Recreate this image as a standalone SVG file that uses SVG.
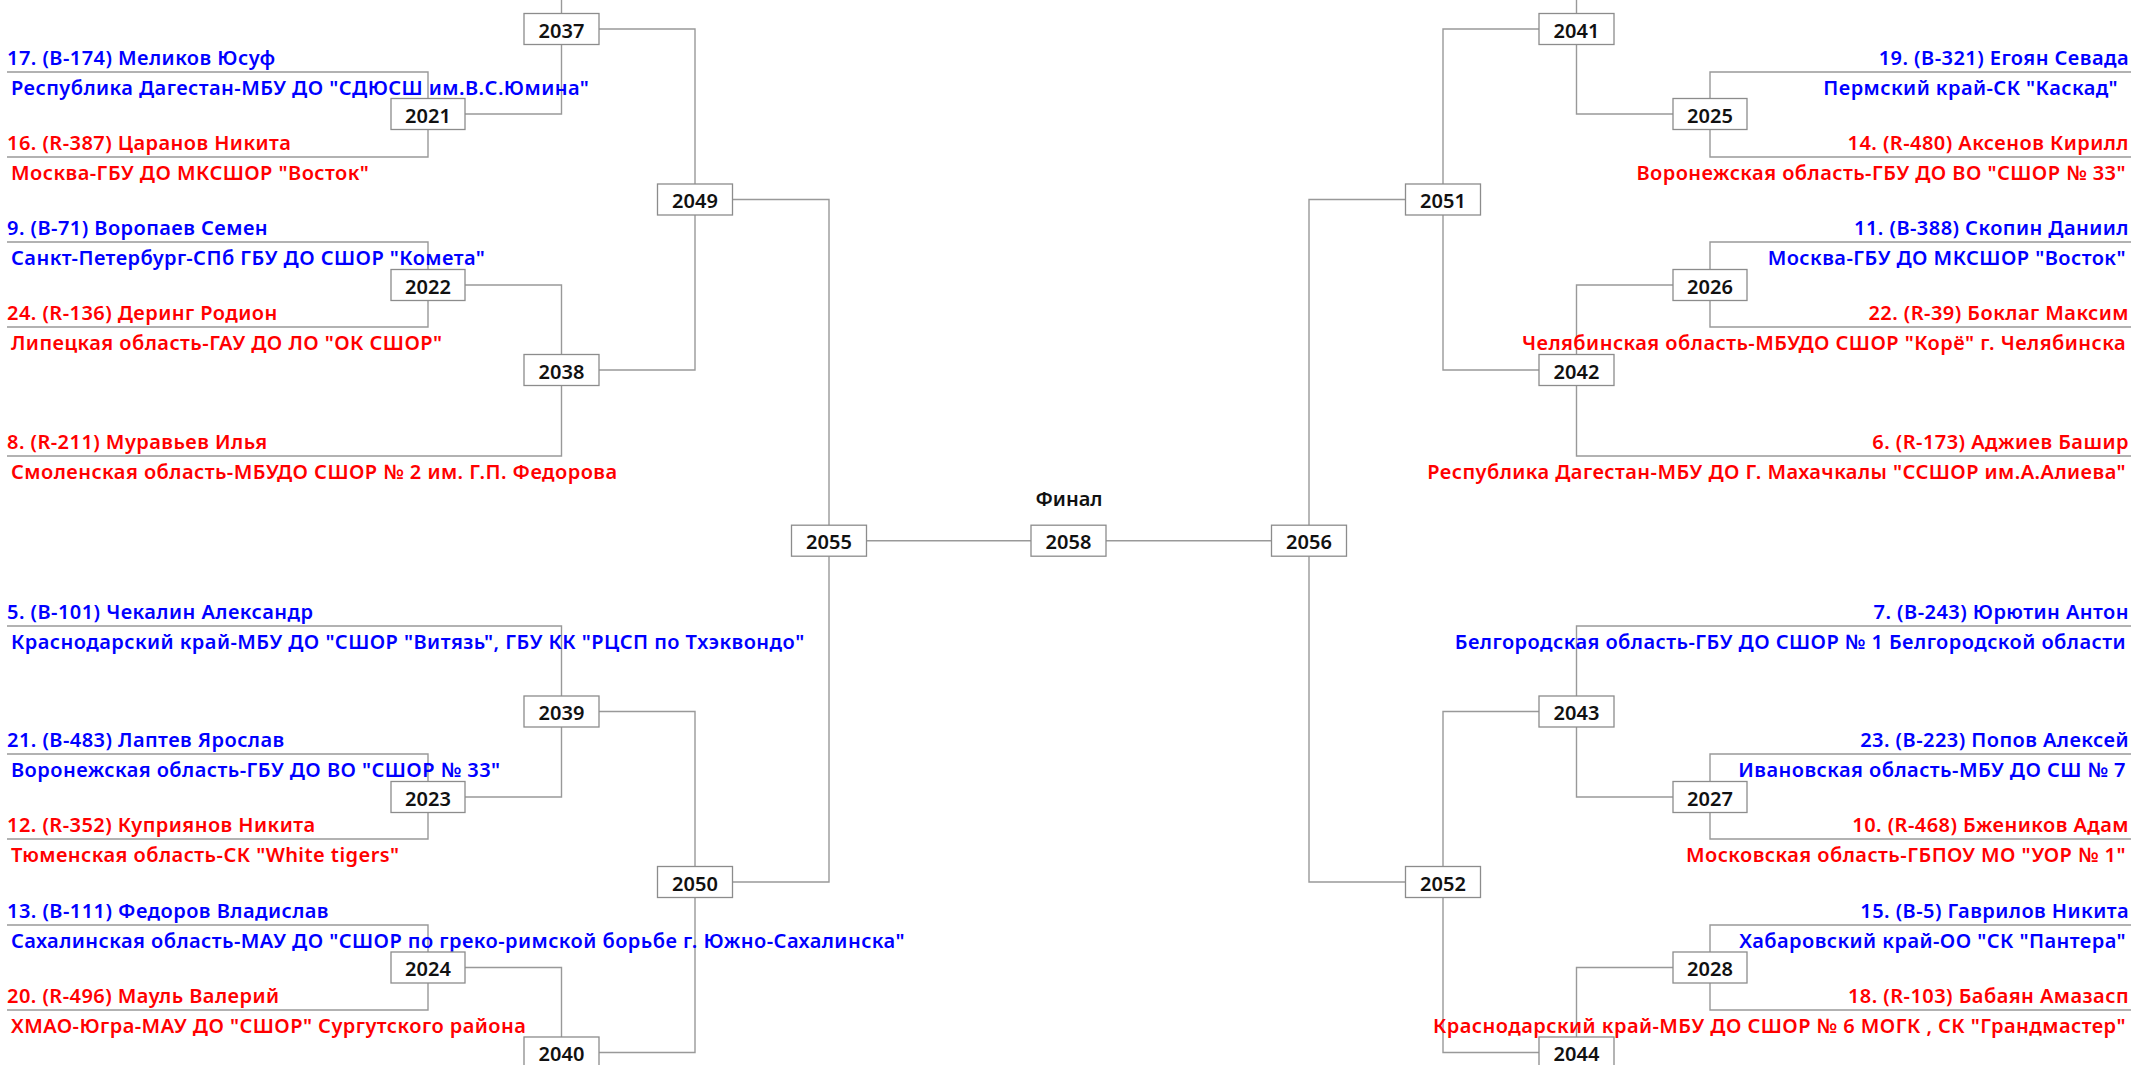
<svg xmlns="http://www.w3.org/2000/svg" width="2131" height="1065" viewBox="0 0 2131 1065">
<style>
.bg{fill:#ffffff}
.ln{fill:none;stroke:#999999;stroke-width:1.4}
.box rect{fill:#ffffff;stroke:#8c8c8c;stroke-width:1.3}
.box text{font-family:"Noto Sans","Open Sans",sans-serif;font-size:20px;font-weight:600;fill:#111111;text-anchor:middle}
.p text{font-family:"Noto Sans","Open Sans",sans-serif;font-size:20px;font-weight:600;letter-spacing:0.45px}
.b text{fill:#0000ff}
.r text{fill:#ff0000}
.R text{text-anchor:end}
.title{font-family:"Noto Sans","Open Sans",sans-serif;font-size:20px;font-weight:600;fill:#111111;text-anchor:middle}
</style>
<rect class="bg" x="0" y="0" width="2131" height="1065"/>
<g id="connectors" class="ln">
<path d="M7,72 H428 V114"/>
<path d="M7,157 H428 V114"/>
<path d="M7,242 H428 V285"/>
<path d="M7,327 H428 V285"/>
<path d="M7,456 H561.5 V370"/>
<path d="M7,626 H561.5 V711.5"/>
<path d="M7,754 H428 V797"/>
<path d="M7,839 H428 V797"/>
<path d="M7,925 H428 V967.5"/>
<path d="M7,1010 H428 V967.5"/>
<path d="M428,114 H561.5 V29"/>
<path d="M561.5,29 V0"/>
<path d="M428,285 H561.5 V370"/>
<path d="M428,797 H561.5 V711.5"/>
<path d="M428,967.5 H561.5 V1052.5"/>
<path d="M561.5,29 H695 V199.5"/>
<path d="M561.5,370 H695 V199.5"/>
<path d="M561.5,711.5 H695 V882"/>
<path d="M561.5,1052.5 H695 V882"/>
<path d="M695,199.5 H829 V540.7"/>
<path d="M695,882 H829 V540.7"/>
<path d="M829,540.7 H1309"/>
<path d="M2131,72 H1710 V114"/>
<path d="M2131,157 H1710 V114"/>
<path d="M2131,242 H1710 V285"/>
<path d="M2131,327 H1710 V285"/>
<path d="M2131,456 H1576.5 V370"/>
<path d="M2131,626 H1576.5 V711.5"/>
<path d="M2131,754 H1710 V797"/>
<path d="M2131,839 H1710 V797"/>
<path d="M2131,925 H1710 V967.5"/>
<path d="M2131,1010 H1710 V967.5"/>
<path d="M1710,114 H1576.5 V29"/>
<path d="M1576.5,29 V0"/>
<path d="M1710,285 H1576.5 V370"/>
<path d="M1710,797 H1576.5 V711.5"/>
<path d="M1710,967.5 H1576.5 V1052.5"/>
<path d="M1576.5,29 H1443 V199.5"/>
<path d="M1576.5,370 H1443 V199.5"/>
<path d="M1576.5,711.5 H1443 V882"/>
<path d="M1576.5,1052.5 H1443 V882"/>
<path d="M1443,199.5 H1309 V540.7"/>
<path d="M1443,882 H1309 V540.7"/>
</g>

<g id="p17" class="p b"><text x="7" y="65">17. (B-174) Меликов Юсуф</text><text x="11" y="95">Республика Дагестан-МБУ ДО "СДЮСШ им.В.С.Юмина"</text></g>
<g id="p16" class="p r"><text x="7" y="150">16. (R-387) Царанов Никита</text><text x="11" y="180">Москва-ГБУ ДО МКСШОР "Восток"</text></g>
<g id="p9" class="p b"><text x="7" y="235">9. (B-71) Воропаев Семен</text><text x="11" y="265">Санкт-Петербург-СПб ГБУ ДО СШОР "Комета"</text></g>
<g id="p24" class="p r"><text x="7" y="320">24. (R-136) Деринг Родион</text><text x="11" y="350">Липецкая область-ГАУ ДО ЛО "ОК СШОР"</text></g>
<g id="p8" class="p r"><text x="7" y="449">8. (R-211) Муравьев Илья</text><text x="11" y="479">Смоленская область-МБУДО СШОР № 2 им. Г.П. Федорова</text></g>
<g id="p5" class="p b"><text x="7" y="619">5. (B-101) Чекалин Александр</text><text x="11" y="649">Краснодарский край-МБУ ДО "СШОР "Витязь", ГБУ КК "РЦСП по Тхэквондо"</text></g>
<g id="p21" class="p b"><text x="7" y="747">21. (B-483) Лаптев Ярослав</text><text x="11" y="777">Воронежская область-ГБУ ДО ВО "СШОР № 33"</text></g>
<g id="p12" class="p r"><text x="7" y="832">12. (R-352) Куприянов Никита</text><text x="11" y="862">Тюменская область-СК "White tigers"</text></g>
<g id="p13" class="p b"><text x="7" y="918">13. (B-111) Федоров Владислав</text><text x="11" y="948">Сахалинская область-МАУ ДО "СШОР по греко-римской борьбе г. Южно-Сахалинска"</text></g>
<g id="p20" class="p r"><text x="7" y="1003">20. (R-496) Мауль Валерий</text><text x="11" y="1033">ХМАО-Югра-МАУ ДО "СШОР" Сургутского района</text></g>

<g id="p19" class="p b R"><text x="2129" y="65">19. (B-321) Егоян Севада</text><text x="2118" y="95">Пермский край-СК "Каскад"</text></g>
<g id="p14" class="p r R"><text x="2129" y="150">14. (R-480) Аксенов Кирилл</text><text x="2126" y="180">Воронежская область-ГБУ ДО ВО "СШОР № 33"</text></g>
<g id="p11" class="p b R"><text x="2129" y="235">11. (B-388) Скопин Даниил</text><text x="2126" y="265">Москва-ГБУ ДО МКСШОР "Восток"</text></g>
<g id="p22" class="p r R"><text x="2129" y="320">22. (R-39) Боклаг Максим</text><text x="2126" y="350">Челябинская область-МБУДО СШОР "Корё" г. Челябинска</text></g>
<g id="p6" class="p r R"><text x="2129" y="449">6. (R-173) Аджиев Башир</text><text x="2126" y="479">Республика Дагестан-МБУ ДО Г. Махачкалы "ССШОР им.А.Алиева"</text></g>
<g id="p7" class="p b R"><text x="2129" y="619">7. (B-243) Юрютин Антон</text><text x="2126" y="649">Белгородская область-ГБУ ДО СШОР № 1 Белгородской области</text></g>
<g id="p23" class="p b R"><text x="2129" y="747">23. (B-223) Попов Алексей</text><text x="2126" y="777">Ивановская область-МБУ ДО СШ № 7</text></g>
<g id="p10" class="p r R"><text x="2129" y="832">10. (R-468) Бжеников Адам</text><text x="2126" y="862">Московская область-ГБПОУ МО "УОР № 1"</text></g>
<g id="p15" class="p b R"><text x="2129" y="918">15. (B-5) Гаврилов Никита</text><text x="2126" y="948">Хабаровский край-ОО "СК "Пантера"</text></g>
<g id="p18" class="p r R"><text x="2129" y="1003">18. (R-103) Бабаян Амазасп</text><text x="2126" y="1033">Краснодарский край-МБУ ДО СШОР № 6 МОГК , СК "Грандмастер"</text></g>

<g id="m2021" class="box"><rect x="391" y="98.5" width="74" height="31"/><text x="428" y="122.5">2021</text></g>
<g id="m2022" class="box"><rect x="391" y="269.5" width="74" height="31"/><text x="428" y="293.5">2022</text></g>
<g id="m2023" class="box"><rect x="391" y="781.5" width="74" height="31"/><text x="428" y="805.5">2023</text></g>
<g id="m2024" class="box"><rect x="391" y="952" width="74" height="31"/><text x="428" y="976">2024</text></g>
<g id="m2037" class="box"><rect x="524" y="13.5" width="75" height="31"/><text x="561.5" y="37.5">2037</text></g>
<g id="m2038" class="box"><rect x="524" y="354.5" width="75" height="31"/><text x="561.5" y="378.5">2038</text></g>
<g id="m2039" class="box"><rect x="524" y="696" width="75" height="31"/><text x="561.5" y="720">2039</text></g>
<g id="m2040" class="box"><rect x="524" y="1037" width="75" height="31"/><text x="561.5" y="1061">2040</text></g>
<g id="m2049" class="box"><rect x="657.5" y="184" width="75" height="31"/><text x="695" y="208">2049</text></g>
<g id="m2050" class="box"><rect x="657.5" y="866.5" width="75" height="31"/><text x="695" y="890.5">2050</text></g>
<g id="m2055" class="box"><rect x="791.5" y="525.2" width="75" height="31"/><text x="829" y="549.2">2055</text></g>

<g id="m2058" class="box"><rect x="1031" y="525.2" width="75" height="31"/><text x="1068.5" y="549.2">2058</text></g>
<text class="title" x="1069" y="506">Финал</text>

<g id="m2025" class="box"><rect x="1673" y="98.5" width="74" height="31"/><text x="1710" y="122.5">2025</text></g>
<g id="m2026" class="box"><rect x="1673" y="269.5" width="74" height="31"/><text x="1710" y="293.5">2026</text></g>
<g id="m2027" class="box"><rect x="1673" y="781.5" width="74" height="31"/><text x="1710" y="805.5">2027</text></g>
<g id="m2028" class="box"><rect x="1673" y="952" width="74" height="31"/><text x="1710" y="976">2028</text></g>
<g id="m2041" class="box"><rect x="1539" y="13.5" width="75" height="31"/><text x="1576.5" y="37.5">2041</text></g>
<g id="m2042" class="box"><rect x="1539" y="354.5" width="75" height="31"/><text x="1576.5" y="378.5">2042</text></g>
<g id="m2043" class="box"><rect x="1539" y="696" width="75" height="31"/><text x="1576.5" y="720">2043</text></g>
<g id="m2044" class="box"><rect x="1539" y="1037" width="75" height="31"/><text x="1576.5" y="1061">2044</text></g>
<g id="m2051" class="box"><rect x="1405.5" y="184" width="75" height="31"/><text x="1443" y="208">2051</text></g>
<g id="m2052" class="box"><rect x="1405.5" y="866.5" width="75" height="31"/><text x="1443" y="890.5">2052</text></g>
<g id="m2056" class="box"><rect x="1271.5" y="525.2" width="75" height="31"/><text x="1309" y="549.2">2056</text></g>
</svg>
